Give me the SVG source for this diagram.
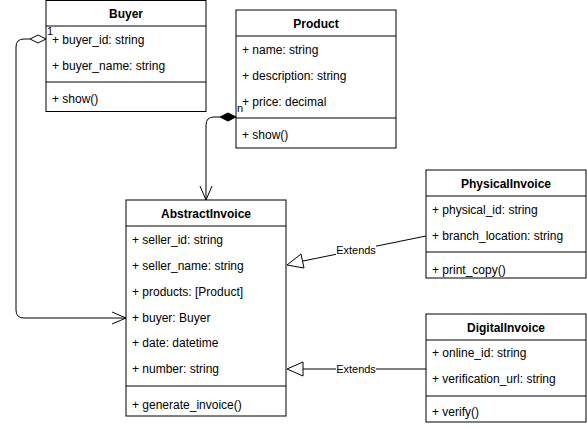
<svg xmlns="http://www.w3.org/2000/svg" width="587" height="429" viewBox="0 0 587 429">
<style>
.box{fill:#fff;stroke:#000;stroke-width:1}
.ln{stroke:#000;stroke-width:1;fill:none}
text{font-family:"Liberation Sans",Arial,sans-serif;font-size:12px;fill:#000}
.t{font-weight:bold;text-anchor:middle}
.lbl{font-size:11px;text-anchor:middle}
</style>
<rect width="587" height="429" fill="#fff"/>
<g id="buyer">
<rect class="box" x="46" y="0.5" width="160" height="111"/>
<line class="ln" x1="46" y1="26" x2="206" y2="26"/>
<line class="ln" x1="46" y1="82" x2="206" y2="82"/>
<text class="t" x="126" y="18">Buyer</text>
<text x="52" y="44">+ buyer_id: string</text>
<text x="52" y="70">+ buyer_name: string</text>
<text x="52" y="103">+ show()</text>
</g>
<g id="product">
<rect class="box" x="236" y="10" width="160" height="138"/>
<line class="ln" x1="236" y1="36" x2="396" y2="36"/>
<line class="ln" x1="236" y1="118" x2="396" y2="118"/>
<text class="t" x="316" y="28">Product</text>
<text x="242" y="54">+ name: string</text>
<text x="242" y="80">+ description: string</text>
<text x="242" y="106">+ price: decimal</text>
<text x="242" y="139">+ show()</text>
</g>
<g id="abstractinvoice">
<rect class="box" x="126" y="200" width="160" height="216"/>
<line class="ln" x1="126" y1="226" x2="286" y2="226"/>
<line class="ln" x1="126" y1="386" x2="286" y2="386"/>
<text class="t" x="206" y="218">AbstractInvoice</text>
<text x="132" y="244">+ seller_id: string</text>
<text x="132" y="270">+ seller_name: string</text>
<text x="132" y="296">+ products: [Product]</text>
<text x="132" y="322">+ buyer: Buyer</text>
<text x="132" y="347">+ date: datetime</text>
<text x="132" y="373">+ number: string</text>
<text x="132" y="409">+ generate_invoice()</text>
</g>
<g id="physicalinvoice">
<rect class="box" x="426" y="170" width="160" height="108"/>
<line class="ln" x1="426" y1="196" x2="586" y2="196"/>
<line class="ln" x1="426" y1="252" x2="586" y2="252"/>
<text class="t" x="506" y="188">PhysicalInvoice</text>
<text x="432" y="214">+ physical_id: string</text>
<text x="432" y="240">+ branch_location: string</text>
<text x="432" y="274">+ print_copy()</text>
</g>
<g id="digitalinvoice">
<rect class="box" x="426" y="314" width="160" height="108"/>
<line class="ln" x1="426" y1="340" x2="586" y2="340"/>
<line class="ln" x1="426" y1="396" x2="586" y2="396"/>
<text class="t" x="506" y="332">DigitalInvoice</text>
<text x="432" y="357">+ online_id: string</text>
<text x="432" y="383">+ verification_url: string</text>
<text x="432" y="416">+ verify()</text>
</g>
<g id="connectors">
<path class="ln" d="M30,39 H24 Q16,39 16,47 V310 Q16,318 24,318 H126"/>
<path class="ln" d="M112,312 L126,318 L112,324"/>
<path d="M46,39 L38,35 L30,39 L38,43 Z" fill="#fff" stroke="#000"/>
<text x="47" y="35" style="font-size:11px">1</text>
<path class="ln" d="M220,117 H214 Q206,117 206,125 V200"/>
<path class="ln" d="M200,186 L206,200 L212,186"/>
<path d="M236,117 L228,113 L220,117 L228,121 Z" fill="#000" stroke="#000"/>
<text x="237" y="112" style="font-size:11px">n</text>
<path class="ln" d="M426,236 L303,261"/>
<path d="M287,265 L301,254 L304,268 Z" fill="#fff" stroke="#000"/>
<rect x="336" y="243" width="40" height="13" fill="#fff"/>
<text class="lbl" x="356" y="254">Extends</text>
<path class="ln" d="M426,369 L303,369"/>
<path d="M287,369 L303,362 L303,376 Z" fill="#fff" stroke="#000"/>
<rect x="336" y="362" width="40" height="13" fill="#fff"/>
<text class="lbl" x="356" y="373">Extends</text>
</g>
</svg>
